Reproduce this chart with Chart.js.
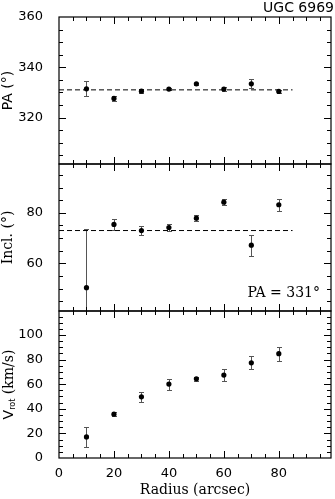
<!DOCTYPE html>
<html>
<head>
<meta charset="utf-8">
<script src="https://cdn.jsdelivr.net/npm/chart.js@4.4.1/dist/chart.umd.min.js"></script>
<style>
html, body { margin: 0; padding: 0; background: #fff; }
#wrap { position: relative; width: 335px; height: 499px; overflow: hidden; }
canvas { position: absolute; left: 0; }
</style>
</head>
<body>
<div id="wrap">
  <canvas id="paChart" width="335" height="170" style="top:0px"></canvas>
  <canvas id="inclChart" width="335" height="159" style="top:158px"></canvas>
  <canvas id="vrotChart" width="335" height="194" style="top:305px"></canvas>
</div>
<script>
// ring radii (arcsec)
const radius = [10, 20, 30, 40, 50, 60, 70, 80];

// position angle (deg)
const pa = [331.4, 327.6, 330.5, 331.3, 333.4, 331.3, 333.4, 330.4];
const paErr = [3.0, 1.1, 0.9, 0.5, 0.5, 0.9, 1.8, 0.6];
const paFit = 331;

// inclination (deg)
const incl = [50.4, 75.4, 73.0, 74.2, 77.9, 84.2, 67.2, 83.2];
const inclErr = [23.4, 2.3, 1.7, 1.3, 1.3, 1.3, 4.1, 2.4];
const inclFit = 73;

// rotation velocity (km/s)
const vrot = [17.1, 35.6, 49.7, 60.1, 64.4, 67.4, 77.4, 84.8];
const vrotErr = [8.1, 1.6, 4.0, 4.5, 1.6, 4.9, 5.2, 5.6];

const fitEnd = 85;
const xMin = 0, xMax = 99;

const SANS = '"DejaVu Sans", sans-serif';
const SERIF = '"DejaVu Serif", serif';

// frame, inward ticks, error bars and extra labels
const framePlugin = {
    id: 'frame',
    beforeDatasetsDraw(chart, args, opts) {
        const { ctx, chartArea: a, scales: { x, y } } = chart;
        if (!opts.err) return;
        ctx.save();
        ctx.beginPath();
        ctx.rect(a.left, a.top, a.right - a.left, a.bottom - a.top);
        ctx.clip();
        ctx.strokeStyle = '#555';
        ctx.lineWidth = 1;
        opts.val.forEach((v, i) => {
            const px = Math.round(x.getPixelForValue(radius[i])) + 0.5;
            const hi = Math.round(y.getPixelForValue(v + opts.err[i])) + 0.5;
            const lo = Math.round(y.getPixelForValue(v - opts.err[i])) + 0.5;
            ctx.beginPath();
            ctx.moveTo(px, hi); ctx.lineTo(px, lo);
            ctx.moveTo(px - 2.5, hi); ctx.lineTo(px + 2.5, hi);
            ctx.moveTo(px - 2.5, lo); ctx.lineTo(px + 2.5, lo);
            ctx.stroke();
        });
        ctx.restore();
    },
    afterDraw(chart, args, opts) {
        const { ctx, chartArea: a, scales: { x, y } } = chart;
        ctx.save();
        ctx.strokeStyle = '#000';
        ctx.lineWidth = 1.2;
        ctx.strokeRect(a.left, a.top, a.right - a.left, a.bottom - a.top);

        ctx.lineWidth = 1;
        ctx.beginPath();
        for (let v = 5; v < xMax; v += 5) {
            const len = v % 20 === 0 ? 7 : 4;
            const px = Math.round(x.getPixelForValue(v)) + 0.5;
            ctx.moveTo(px, a.top); ctx.lineTo(px, a.top + len);
            ctx.moveTo(px, a.bottom); ctx.lineTo(px, a.bottom - len);
        }
        for (let v = Math.ceil(y.min / 5) * 5; v < y.max; v += 5) {
            if (v === y.min) continue;
            const len = v % 20 === 0 ? 7 : 4;
            const py = Math.round(y.getPixelForValue(v)) + 0.5;
            ctx.moveTo(a.left, py); ctx.lineTo(a.left + len, py);
            ctx.moveTo(a.right, py); ctx.lineTo(a.right - len, py);
        }
        ctx.stroke();

        ctx.fillStyle = '#000';
        if (opts.note) {
            ctx.font = '14px ' + SERIF;
            ctx.textAlign = 'right';
            ctx.textBaseline = 'middle';
            ctx.fillText(opts.note, a.right - 11, a.bottom - 18);
        }
        if (opts.vtitle) {
            // V_rot (km/s), rotated, with subscript
            const parts = [
                { t: 'V', f: '14px ' + SANS, dy: 0 },
                { t: 'rot', f: '8px ' + SANS, dy: 4 },
                { t: ' (km/s)', f: '14px ' + SERIF, dy: 0 }
            ];
            let total = 0;
            parts.forEach(p => { ctx.font = p.f; p.w = ctx.measureText(p.t).width; total += p.w; });
            ctx.translate(9, (a.top + a.bottom) / 2);
            ctx.rotate(-Math.PI / 2);
            ctx.textAlign = 'left';
            ctx.textBaseline = 'middle';
            let cx = -total / 2;
            parts.forEach(p => { ctx.font = p.f; ctx.fillText(p.t, cx, p.dy); cx += p.w; });
        }
        ctx.restore();
    }
};

function noPad(s) {
    s.paddingTop = 0; s.paddingBottom = 0;
    s.paddingLeft = 0; s.paddingRight = 0;
}

function makePanel(id, o) {
    return new Chart(document.getElementById(id), {
        type: 'scatter',
        data: {
            datasets: [
                {
                    data: radius.map((r, i) => ({ x: r, y: o.val[i] })),
                    pointRadius: 2.6,
                    pointBackgroundColor: '#000',
                    pointBorderWidth: 0,
                    showLine: false
                },
                o.fit !== undefined ? {
                    type: 'line',
                    data: [{ x: xMin, y: o.fit }, { x: fitEnd, y: o.fit }],
                    borderColor: '#000',
                    borderWidth: 1,
                    borderDash: [5, 3],
                    pointRadius: 0
                } : null
            ].filter(Boolean)
        },
        options: {
            responsive: false,
            animation: false,
            layout: { padding: o.padding },
            plugins: {
                legend: { display: false },
                tooltip: { enabled: false },
                title: o.title ? {
                    display: true, text: o.title, align: 'end', color: '#000',
                    font: { family: SANS, size: 14, weight: 'normal' },
                    padding: { top: 0, bottom: 0.2 }
                } : { display: false },
                frame: { val: o.val, err: o.err, note: o.note, vtitle: o.vtitle }
            },
            scales: {
                x: {
                    type: 'linear', min: xMin, max: xMax,
                    display: !!o.showX,
                    grid: { display: false },
                    border: { display: false },
                    ticks: {
                        stepSize: 20, includeBounds: false, padding: 0, color: '#000',
                        maxRotation: 0,
                        font: { family: SANS, size: 13 }
                    },
                    title: {
                        display: !!o.showX, text: 'Radius (arcsec)', color: '#000',
                        font: { family: SERIF, size: 14 }, padding: 0
                    },
                    afterFit: s => { noPad(s); if (o.showX) s.height = 41; }
                },
                y: {
                    type: 'linear', min: o.min, max: o.max,
                    grid: { display: false },
                    border: { display: false },
                    ticks: {
                        stepSize: 20, includeBounds: false, padding: 8, color: '#000',
                        font: { family: SANS, size: 13 }
                    },
                    title: {
                        display: !!o.ytitle, text: o.ytitle, color: '#000',
                        font: { family: o.ytitleFont || SANS, size: 14 }, padding: 0
                    },
                    afterFit: s => { noPad(s); s.width = 59; }
                }
            }
        },
        plugins: [framePlugin]
    });
}

makePanel('paChart', {
    val: pa, err: paErr, fit: paFit, min: 301.5, max: 360,
    ytitle: 'PA (°)', title: 'UGC 6969',
    padding: { top: 0, right: 1, bottom: 6, left: 0 }
});

makePanel('inclChart', {
    val: incl, err: inclErr, fit: inclFit, min: 41.2, max: 99.3,
    ytitle: 'Incl. (°)', ytitleFont: SERIF, note: 'PA = 331°',
    padding: { top: 6, right: 1, bottom: 6, left: 0 }
});

makePanel('vrotChart', {
    val: vrot, err: vrotErr, min: 0, max: 119.5,
    vtitle: true, showX: true,
    padding: { top: 6, right: 1, bottom: 0, left: 0 }
});
</script>
</body>
</html>
